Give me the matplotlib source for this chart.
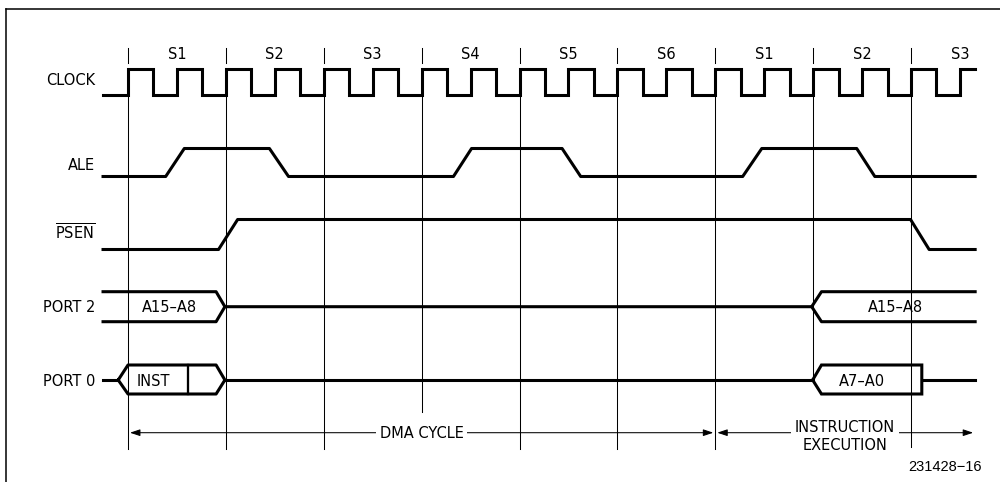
import matplotlib
matplotlib.use('Agg')
import matplotlib.pyplot as plt
from matplotlib.lines import Line2D

plt.rcParams['font.family'] = 'DejaVu Sans'
plt.rcParams['mathtext.fontset'] = 'dejavusans'

# time axis in clock periods, one state = 2 periods, 0 = start of first S1
state_starts = [0, 2, 4, 6, 8, 10, 12, 14, 16]
state_labels = ['S1', 'S2', 'S3', 'S4', 'S5', 'S6', 'S1', 'S2', 'S3']
t_begin = -0.51
t_end = 17.31

clock_rise = [0, 1, 2, 3, 4, 5, 6, 7, 8, 9, 10, 11, 12, 13, 14, 15, 16, 17]
clock_fall = [0.52, 1.52, 2.52, 3.52, 4.52, 5.52, 6.52, 7.52, 8.52,
              9.52, 10.52, 11.52, 12.52, 13.52, 14.52, 15.52, 16.52]

# (rise start, rise end, fall start, fall end)
ale_pulses = [(0.77, 1.15, 2.89, 3.28),
              (6.65, 7.02, 8.87, 9.25),
              (12.56, 12.95, 14.89, 15.26)]
psen_pulse = (1.85, 2.24, 15.99, 16.37)

port2_labels = ['A15–A8', 'A15–A8']
port2_close = (1.80, 1.98)      # bus -> float
port2_open = (13.97, 14.17)     # float -> bus
port0_inst = (-0.20, 0.0, 1.80, 1.98)   # left vertex, top start, top end, right vertex
port0_inst_split = 1.22
port0_addr = (13.99, 14.17, 16.22)      # left vertex, top start, square right edge

dma_span = (0.0, 12.0)
exec_span = (12.0, 17.31)

signal_names = ['CLOCK', 'ALE', r'$\overline{\mathrm{PSEN}}$', 'PORT 2', 'PORT 0']

# vertical levels (top-down)
clk_hi, clk_lo = 69, 95
ale_hi, ale_lo = 148.5, 176.5
psen_hi, psen_lo = 219.5, 249.5
p2_top, p2_mid, p2_bot = 291.7, 306.7, 321.7
p0_top, p0_mid, p0_bot = 365, 380, 394
arrow_y = 432.7
label_base = [85, 170, 240, 311.7, 386]
grid_bottom = [449, 449, 449, 412, 449, 449, 449, 380, 447]

fs = 10.5
lw_sig = 2.2
lw_thin = 0.75

fig = plt.figure(figsize=(10, 4.82), dpi=100)
ax = fig.add_axes([0, 0, 1, 1])
ax.set_xlim(-128 / 48.94, 872 / 48.94)
ax.set_ylim(482, 0)
ax.axis('off')

# frame (top and left only)
fig.add_artist(Line2D([0.006, 1.0], [1 - 8.5 / 482, 1 - 8.5 / 482],
                      transform=fig.transFigure, color='black', lw=1.1))
fig.add_artist(Line2D([0.006, 0.006], [0, 1 - 8.5 / 482],
                      transform=fig.transFigure, color='black', lw=1.1))

# state boundaries and labels
for t, yb in zip(state_starts, grid_bottom):
    ax.plot([t, t], [48, 63], color='black', lw=lw_thin)
    ax.plot([t, t], [clk_lo, yb], color='black', lw=lw_thin, zorder=1)
for t, s in zip(state_starts, state_labels):
    ax.text(t + 1, 59.3, s, ha='center', va='baseline', fontsize=fs)

# signal names
for name, yb in zip(signal_names, label_base):
    ax.text((95 - 128) / 48.94, yb, name, ha='right', va='baseline', fontsize=fs)

# clock
edges = sorted([(t, clk_hi) for t in clock_rise] + [(t, clk_lo) for t in clock_fall])
xs, ys = [t_begin], [clk_lo]
for t, lvl in edges:
    xs += [t, t]
    ys += [ys[-1], lvl]
xs.append(t_end)
ys.append(ys[-1])
ax.plot(xs, ys, color='black', lw=lw_sig, solid_joinstyle='miter', zorder=2)

# ALE
xs, ys = [t_begin], [ale_lo]
for r0, r1, f0, f1 in ale_pulses:
    xs += [r0, r1, f0, f1]
    ys += [ale_lo, ale_hi, ale_hi, ale_lo]
xs.append(t_end)
ys.append(ale_lo)
ax.plot(xs, ys, color='black', lw=lw_sig, zorder=2)

# PSEN
r0, r1, f0, f1 = psen_pulse
ax.plot([t_begin, r0, r1, f0, f1, t_end],
        [psen_lo, psen_lo, psen_hi, psen_hi, psen_lo, psen_lo],
        color='black', lw=lw_sig, zorder=2)

# PORT 2
c0, c1 = port2_close
o0, o1 = port2_open
ax.plot([t_begin, c0, c1, o0, o1, t_end],
        [p2_top, p2_top, p2_mid, p2_mid, p2_top, p2_top],
        color='black', lw=lw_sig, zorder=2)
ax.plot([t_begin, c0, c1], [p2_bot, p2_bot, p2_mid], color='black', lw=lw_sig, zorder=2)
ax.plot([o0, o1, t_end], [p2_mid, p2_bot, p2_bot], color='black', lw=lw_sig, zorder=2)
ax.text((t_begin + c1) / 2 + 0.12, p2_mid + 5, port2_labels[0], ha='center',
        va='baseline', fontsize=fs)
ax.text((o1 + t_end) / 2 - 0.05, p2_mid + 5, port2_labels[1], ha='center',
        va='baseline', fontsize=fs)

# PORT 0
lv, ts, te, rv = port0_inst
ax.plot([t_begin, lv], [p0_mid, p0_mid], color='black', lw=lw_sig, zorder=2)
ax.plot([lv, ts, te, rv, te, ts, lv],
        [p0_mid, p0_top, p0_top, p0_mid, p0_bot, p0_bot, p0_mid],
        color='black', lw=lw_sig, zorder=2)
ax.plot([port0_inst_split, port0_inst_split], [p0_top, p0_bot],
        color='black', lw=lw_sig * 0.75, zorder=2)
ax.plot([rv, port0_addr[0]], [p0_mid, p0_mid], color='black', lw=lw_sig, zorder=2)
av, ats, are = port0_addr
ax.plot([av, ats, are, are, ats, av],
        [p0_mid, p0_top, p0_top, p0_bot, p0_bot, p0_mid],
        color='black', lw=lw_sig, solid_joinstyle='miter', zorder=2)
ax.plot([are, t_end], [p0_mid, p0_mid], color='black', lw=lw_sig, zorder=2)
ax.text(0.51, p0_mid + 5.5, 'INST', ha='center', va='baseline', fontsize=fs)
ax.text(14.99, p0_mid + 5.5, 'A7–A0', ha='center', va='baseline', fontsize=fs)

# cycle arrows
astyle = dict(arrowstyle='-|>,head_length=0.6,head_width=0.2', color='black',
              lw=lw_thin, mutation_scale=10, shrinkA=0, shrinkB=0)
for a, b in [dma_span, exec_span]:
    mid = (a + b) / 2
    ax.annotate('', xy=(a + 0.04, arrow_y), xytext=(mid, arrow_y), arrowprops=astyle)
    ax.annotate('', xy=(b - 0.04, arrow_y), xytext=(mid, arrow_y), arrowprops=astyle)
wbox = dict(boxstyle='square,pad=0.25', fc='white', ec='none')
ax.text(6.0, 438, 'DMA CYCLE', ha='center', va='baseline', fontsize=fs,
        bbox=wbox, zorder=4)
ax.text(14.65, 436.5, 'INSTRUCTION\nEXECUTION', ha='center', va='center',
        fontsize=fs, linespacing=1.2, bbox=wbox, zorder=4)

ax.text((982 - 128) / 48.94, 471, '231428\u221216', ha='right', va='baseline',
        fontsize=fs, family='Liberation Sans')

fig.savefig('out.png', dpi=100)
